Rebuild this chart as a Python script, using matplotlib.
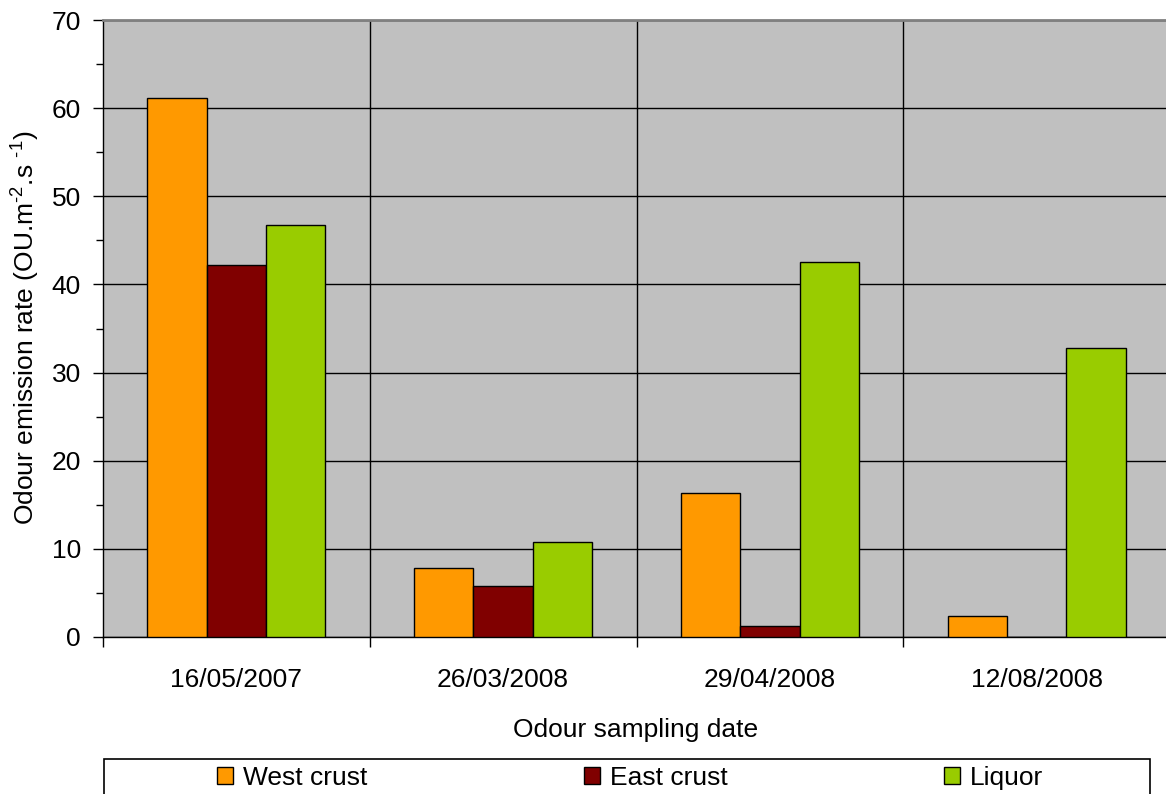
import numpy as np
import matplotlib.pyplot as plt
from matplotlib.patches import Rectangle, Patch
from matplotlib.ticker import MultipleLocator

plt.rcParams['font.family'] = ['Liberation Sans', 'DejaVu Sans']
plt.rcParams['mathtext.fontset'] = 'custom'
plt.rcParams['mathtext.rm'] = 'Liberation Sans'

dates = ['16/05/2007', '26/03/2008', '29/04/2008', '12/08/2008']
west_crust = [61.2, 7.8, 16.3, 2.4]
east_crust = [42.2, 5.8, 1.2, 0.0]
liquor = [46.7, 10.8, 42.6, 32.8]
series_names = ['West crust', 'East crust', 'Liquor']
colors = ['#FF9900', '#800000', '#99CC00']

fs = 19

fig = plt.figure(figsize=(11.66, 7.94), dpi=100)
ax = fig.add_axes([103/1166, 1 - 637/794, (1170 - 103)/1166, (637 - 20)/794])
ax.set_facecolor('#C0C0C0')

x = np.arange(len(dates))
w = 1 / 4.5
for i, (vals, c) in enumerate(zip([west_crust, east_crust, liquor], colors)):
    ax.bar(x + (i - 1) * w, vals, width=w, color=c, edgecolor='black', linewidth=1, zorder=3)

ax.set_xlim(-0.5, len(dates) - 0.5)
ax.set_ylim(0, 70)

# gridlines
ax.yaxis.set_major_locator(MultipleLocator(10))
ax.yaxis.set_minor_locator(MultipleLocator(5))
ax.grid(axis='y', which='major', color='black', linewidth=1, zorder=1)
for b in np.arange(0.5, len(dates) - 0.5, 1):
    ax.axvline(b, color='black', linewidth=1, zorder=1)

ax.set_xticks(np.arange(-0.5, len(dates), 1))
ax.set_xticklabels([])
ax.set_xticks(x, minor=True)
ax.set_xticklabels(dates, minor=True)
ax.tick_params(axis='x', which='major', direction='out', length=7, width=1)
ax.tick_params(axis='x', which='minor', length=0, pad=22, labelsize=fs)
ax.tick_params(axis='y', which='major', direction='out', length=7, width=1, pad=9, labelsize=fs)
ax.tick_params(axis='y', which='minor', direction='out', length=5, width=1)

for s in ['left', 'bottom']:
    ax.spines[s].set_color('black')
    ax.spines[s].set_linewidth(1)
ax.spines['top'].set_color('#808080')
ax.spines['top'].set_linewidth(2)
ax.spines['right'].set_visible(False)

fig.text(25/1166, 1 - 328/794, r'Odour emission rate (OU.m$^{\text{-2}}$.s $^{\text{-1}}$)',
         rotation=90, ha='center', va='center', fontsize=fs)
fig.text(636/1166, 1 - 730/794, 'Odour sampling date', ha='center', va='center', fontsize=fs)

# legend box
fig.patches.append(Rectangle((104/1166, -0.05), (1150 - 104)/1166, 0.05 + 1 - 759/794,
                             transform=fig.transFigure, facecolor='white',
                             edgecolor='black', linewidth=1.2))
handles = [Patch(facecolor=c, edgecolor='black', linewidth=1) for c in colors]
fig.legend(handles, series_names, loc='center', bbox_to_anchor=(630/1166, 1 - 778/794),
           ncol=3, frameon=False, fontsize=fs, handlelength=0.6, handleheight=0.6,
           handletextpad=0.38, columnspacing=8.2, borderaxespad=0)

fig.savefig('out.png', dpi=100)
